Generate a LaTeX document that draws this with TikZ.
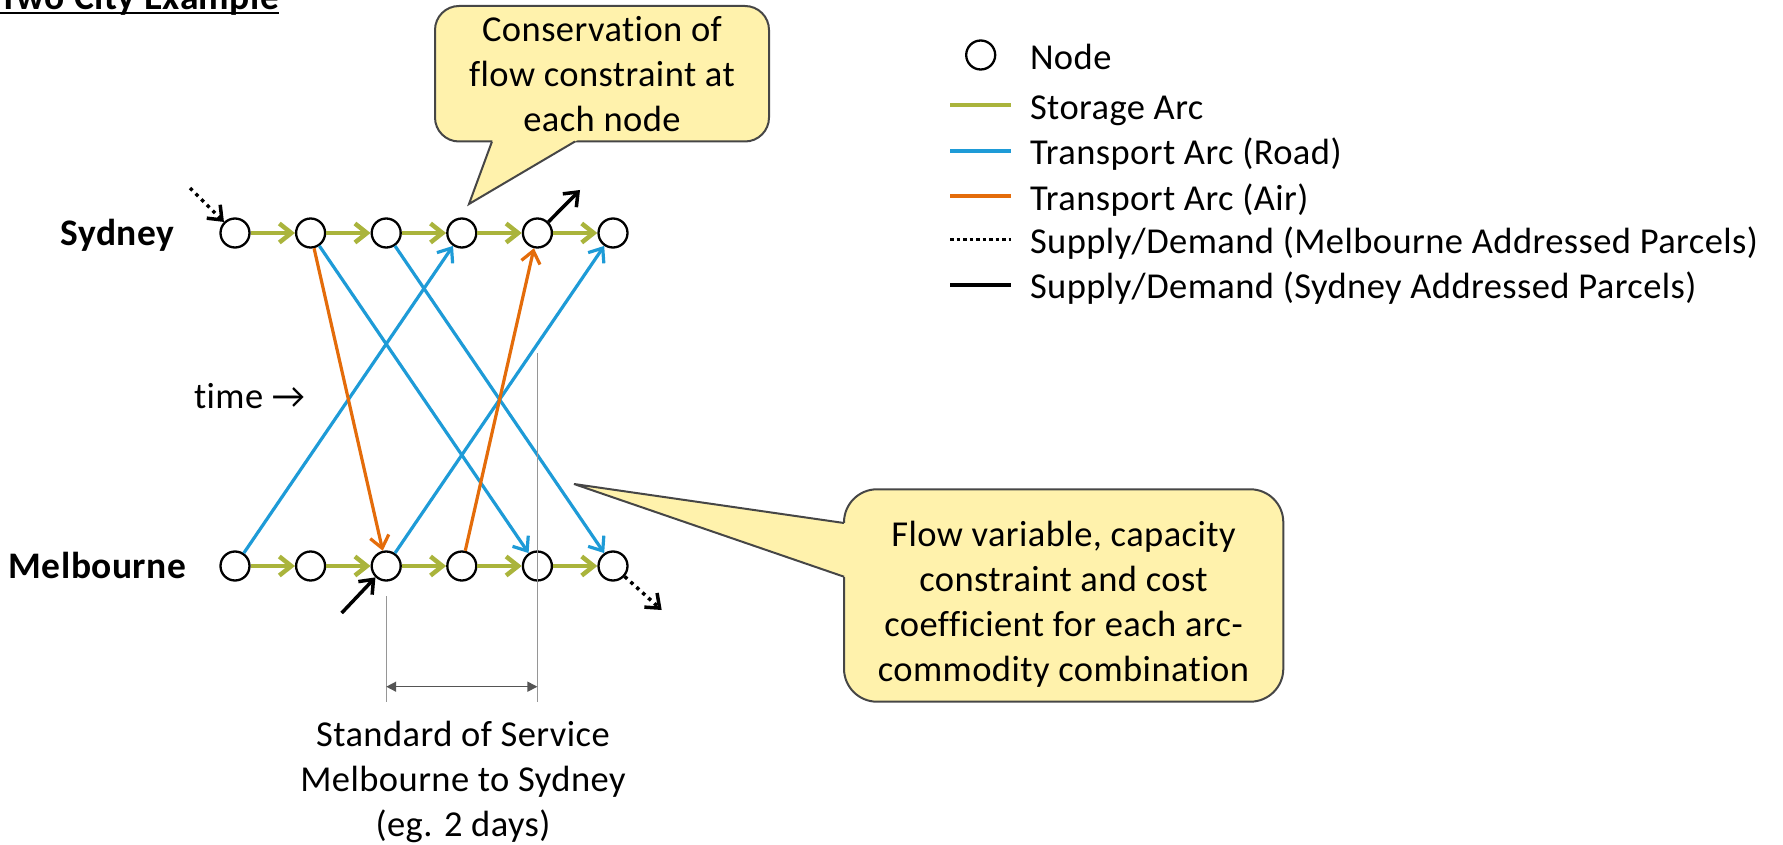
\RequirePackage{fix-cm}
\documentclass[tikz,border=0pt]{standalone}
\usepackage{graphicx}
\usepackage{fontspec}
\setmainfont{Carlito}[Ligatures=NoCommon,LetterSpace=1.2]
\usetikzlibrary{arrows.meta}
\definecolor{storagec}{RGB}{170,180,60}
\definecolor{roadc}{RGB}{30,155,215}
\definecolor{airc}{RGB}{228,108,10}
\definecolor{calloutfill}{RGB}{255,242,172}
\definecolor{calloutline}{RGB}{70,70,70}
\definecolor{dimgray}{RGB}{85,85,85}
\definecolor{guidegray}{RGB}{150,150,150}
\newcommand\ultext[1]{\setbox0\hbox{#1}\rlap{\rule[-4.3pt]{\wd0}{2.2pt}}\box0}
\begin{document}
\begin{tikzpicture}[x=1pt,y=-1pt,
  font=\fontsize{36.5}{45}\selectfont,
  tnode/.style={circle,draw=black,line width=2.3pt,fill=white,minimum size=29pt,inner sep=0pt},
  head/.style={-{Straight Barb[length=12pt,width=19pt]}},
  storage/.style={head,draw=storagec,line width=4.5pt},
  road/.style={head,draw=roadc,line width=3.2pt},
  air/.style={head,draw=airc,line width=3.2pt},
  sdsolid/.style={head,draw=black,line width=3.5pt},
  sddotted/.style={head,draw=black,line width=3.5pt,dash pattern=on 3.5pt off 4.5pt},
  guide/.style={draw=guidegray,line width=1.3pt},
  dimarrow/.style={{Triangle[length=10pt,width=10pt]}-{Triangle[length=10pt,width=10pt]},draw=dimgray,fill=dimgray,line width=1.5pt},
  lbl/.style={inner sep=0pt,outer sep=0pt},
  boldlbl/.style={lbl,font=\fontsize{37.5}{45}\selectfont\bfseries},
  callout/.style={fill=calloutfill,draw=calloutline,line width=2pt},
  pointer/.style={draw=calloutline,line width=2pt,line join=miter},
  legline/.style={line width=4pt}]
\useasboundingbox (0,0) rectangle (1783,845);

% title
\node[boldlbl,anchor=base west] (title) at (-1,9.5) {\ultext{Two City Example}};

% callouts (drawn first, behind)
\draw[callout,rounded corners=24pt] (435,6) rectangle (769,141.5);
\fill[calloutfill] (493.7,137) -- (469,204) -- (582.6,137) -- cycle;
\draw[pointer] (492,141.5) -- (469,204) -- (575,141.5);
\node[lbl,align=center] (ctext1) at (602,74.2) {Conservation of\\flow constraint at\\each node};

\draw[callout,rounded corners=33pt] (844,489.3) rectangle (1283.3,701.7);
\fill[calloutfill] (848.5,523.6) -- (574,484) -- (848.5,578.2) -- cycle;
\draw[pointer] (844,523) -- (574,484) -- (844,576.7);
\node[lbl,align=center] (ctext2) at (1063.5,604.3) {Flow variable, capacity\\constraint and cost\\coefficient for each arc-\\commodity combination};

% nodes
\foreach \i/\x in {1/235,2/310.6,3/386.2,4/461.8,5/537.4,6/613}{
  \node[tnode] (S\i) at (\x,233) {};
  \node[tnode] (M\i) at (\x,566) {};
}

% storage arcs
\foreach \i [evaluate=\i as \j using int(\i+1)] in {1,...,5}{
  \draw[storage] (S\i) -- (S\j);
  \draw[storage] (M\i) -- (M\j);
}

% transport arcs
\draw[road] (S2) -- (M5);
\draw[road] (S3) -- (M6);
\draw[road] (M1) -- (S4);
\draw[road] (M3) -- (S6);
\draw[air] (S2) -- (M3);
\draw[air] (M4) -- (S5);

% supply / demand
\coordinate (inS) at (190,188);
\coordinate (outS) at (580,190);
\coordinate (inM) at (341.7,613);
\coordinate (outM) at (661.7,610);
\draw[sddotted] (inS) -- (S1);
\draw[sdsolid] (S5) -- (outS);
\draw[sdsolid] (inM) -- (M3);
\draw[sddotted] (M6) -- (outM);

% standard of service
\coordinate (g5top) at (537.4,353);
\coordinate (g5bot) at (537.4,702);
\coordinate (g3top) at (386.2,596);
\coordinate (g3bot) at (386.2,702);
\draw[guide] (g5top) -- (g5bot);
\draw[guide] (g3top) -- (g3bot);
\coordinate (d3) at (386.2,686.7);
\coordinate (d5) at (537.4,686.7);
\draw[dimarrow] (d3) -- (d5);
\node[lbl,align=center] (sos) at (463,781.8) {Standard of Service\\Melbourne to Sydney\\(eg. 2 days)};

% labels
\node[boldlbl,anchor=base east] (sydney) at (174,245.5) {Sydney};
\node[boldlbl,anchor=base east] (melbourne) at (186,578) {Melbourne};
\node[lbl,anchor=base west] (time) at (194,408) {time →};

% legend
\node[tnode] (legnode) at (980.7,55) {};
\node[lbl,anchor=base west] (legnodetxt) at (1030,70) {Node};
\coordinate (l1a) at (950,105);   \coordinate (l1b) at (1011,105);
\coordinate (l2a) at (950,150.7); \coordinate (l2b) at (1011,150.7);
\coordinate (l3a) at (950,196);   \coordinate (l3b) at (1011,196);
\coordinate (l4a) at (950,239.3); \coordinate (l4b) at (1011,239.3);
\coordinate (l5a) at (950,285);   \coordinate (l5b) at (1011,285);
\draw[legline,draw=storagec] (l1a) -- (l1b);
\draw[legline,draw=roadc] (l2a) -- (l2b);
\draw[legline,draw=airc] (l3a) -- (l3b);
\draw[draw=black,line width=3.3pt,dash pattern=on 3.5pt off 3pt] (l4a) -- (l4b);
\draw[legline,draw=black] (l5a) -- (l5b);
\node[lbl,anchor=base west] (leg1) at (1030,120) {Storage Arc};
\node[lbl,anchor=base west] (leg2) at (1030,165) {Transport Arc (Road)};
\node[lbl,anchor=base west] (leg3) at (1030,210.7) {Transport Arc (Air)};
\node[lbl,anchor=base west] (leg4) at (1030,253.5) {Supply/Demand (Melbourne Addressed Parcels)};
\node[lbl,anchor=base west] (leg5) at (1030,298.5) {Supply/Demand (Sydney Addressed Parcels)};
\end{tikzpicture}
\end{document}
